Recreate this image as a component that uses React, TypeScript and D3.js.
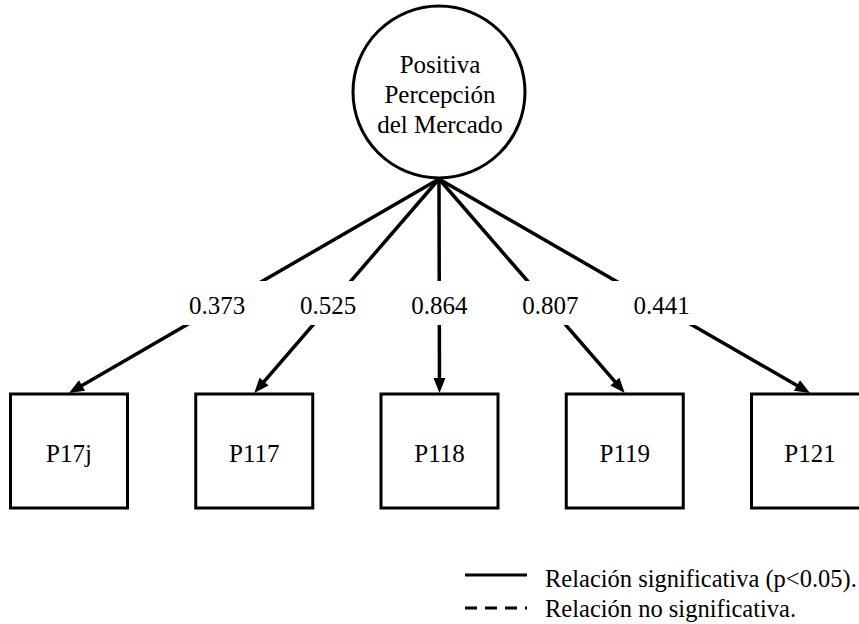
import { useEffect, useRef } from 'react';
import * as d3 from 'd3';

// latent construct (drawn as circle)
const factorLines = ['Positiva', 'Percepción', 'del Mercado'];

// observed indicators (boxes) and their standardized loadings
const indicators = ['P17j', 'P117', 'P118', 'P119', 'P121'];
const loadings = [0.373, 0.525, 0.864, 0.807, 0.441];
const significant = [true, true, true, true, true];

// legend entries
const legendItems = [
  { label: 'Relación significativa (p<0.05).', dashed: false },
  { label: 'Relación no significativa.', dashed: true },
];

const W = 859;
const H = 624;
const FONT = 'Liberation Serif';

export default function App() {
  const svgRef = useRef<SVGSVGElement>(null);

  useEffect(() => {
    if (!svgRef.current) return;
    const svg = d3.select(svgRef.current);
    svg.selectAll('*').remove();

    const cx = 439;
    const cy = 92;
    const r = 86;

    const boxW = 117;
    const boxH = 114;
    const boxTop = 394;
    const labelY = 303;

    const x = d3.scalePoint<string>().domain(indicators).range([69, 810]);

    const src = { x: cx, y: cy + r + 1 };

    // links
    const links = svg.append('g');
    indicators.forEach((ind, i) => {
      const tx = x(ind)!;
      const ty = boxTop - 1;
      const dx = tx - src.x;
      const dy = ty - src.y;
      const len = Math.hypot(dx, dy);
      const ux = dx / len;
      const uy = dy / len;
      const aLen = 15;
      const aW = 6;
      const bx = tx - ux * aLen;
      const by = ty - uy * aLen;

      links.append('line')
        .attr('x1', src.x)
        .attr('y1', src.y)
        .attr('x2', bx + ux * 2)
        .attr('y2', by + uy * 2)
        .attr('stroke', '#000')
        .attr('stroke-width', 3.5)
        .attr('stroke-dasharray', significant[i] ? null : '12,8');

      const head = d3.path();
      head.moveTo(tx, ty);
      head.lineTo(bx - uy * aW, by + ux * aW);
      head.lineTo(bx + uy * aW, by - ux * aW);
      head.closePath();
      links.append('path').attr('d', head.toString()).attr('fill', '#000');

      // label with white background breaking the line
      const lx = src.x + dx * 0.6;
      links.append('rect')
        .attr('x', lx - 50)
        .attr('y', labelY - 22)
        .attr('width', 100)
        .attr('height', 44)
        .attr('fill', '#fff');
      links.append('text')
        .attr('x', lx)
        .attr('y', labelY + 11)
        .attr('text-anchor', 'middle')
        .style('font-family', FONT)
        .attr('font-size', 25)
        .attr('fill', '#000')
        .text(d3.format('.3f')(loadings[i]));
    });

    // latent variable circle
    svg.append('circle')
      .attr('cx', cx)
      .attr('cy', cy)
      .attr('r', r)
      .attr('fill', '#fff')
      .attr('stroke', '#000')
      .attr('stroke-width', 3);

    factorLines.forEach((t, i) => {
      svg.append('text')
        .attr('x', cx + 1)
        .attr('y', 73 + i * 30)
        .attr('text-anchor', 'middle')
        .style('font-family', FONT)
        .attr('font-size', 25)
        .attr('fill', '#000')
        .text(t);
    });

    // indicator boxes
    indicators.forEach(ind => {
      const c = x(ind)!;
      svg.append('rect')
        .attr('x', c - boxW / 2)
        .attr('y', boxTop)
        .attr('width', boxW)
        .attr('height', boxH)
        .attr('fill', 'none')
        .attr('stroke', '#000')
        .attr('stroke-width', 3);
      svg.append('text')
        .attr('x', c)
        .attr('y', 462)
        .attr('text-anchor', 'middle')
        .style('font-family', FONT)
        .attr('font-size', 25)
        .attr('fill', '#000')
        .text(ind);
    });

    // legend
    const lg = svg.append('g');
    legendItems.forEach((item, i) => {
      const y = 575 + i * 33;
      lg.append('line')
        .attr('x1', 465)
        .attr('x2', 527)
        .attr('y1', y)
        .attr('y2', y)
        .attr('stroke', '#000')
        .attr('stroke-width', 3)
        .attr('stroke-dasharray', item.dashed ? '12,8' : null);
      lg.append('text')
        .attr('x', 545)
        .attr('y', 587 + i * 30)
        .style('font-family', FONT)
        .attr('font-size', 24.5)
        .attr('fill', '#000')
        .text(item.label);
    });
  }, []);

  return (
    <svg
      ref={svgRef}
      width={W}
      height={H}
      style={{ position: 'absolute', left: 0, top: 0, background: '#fff' }}
    />
  );
}
